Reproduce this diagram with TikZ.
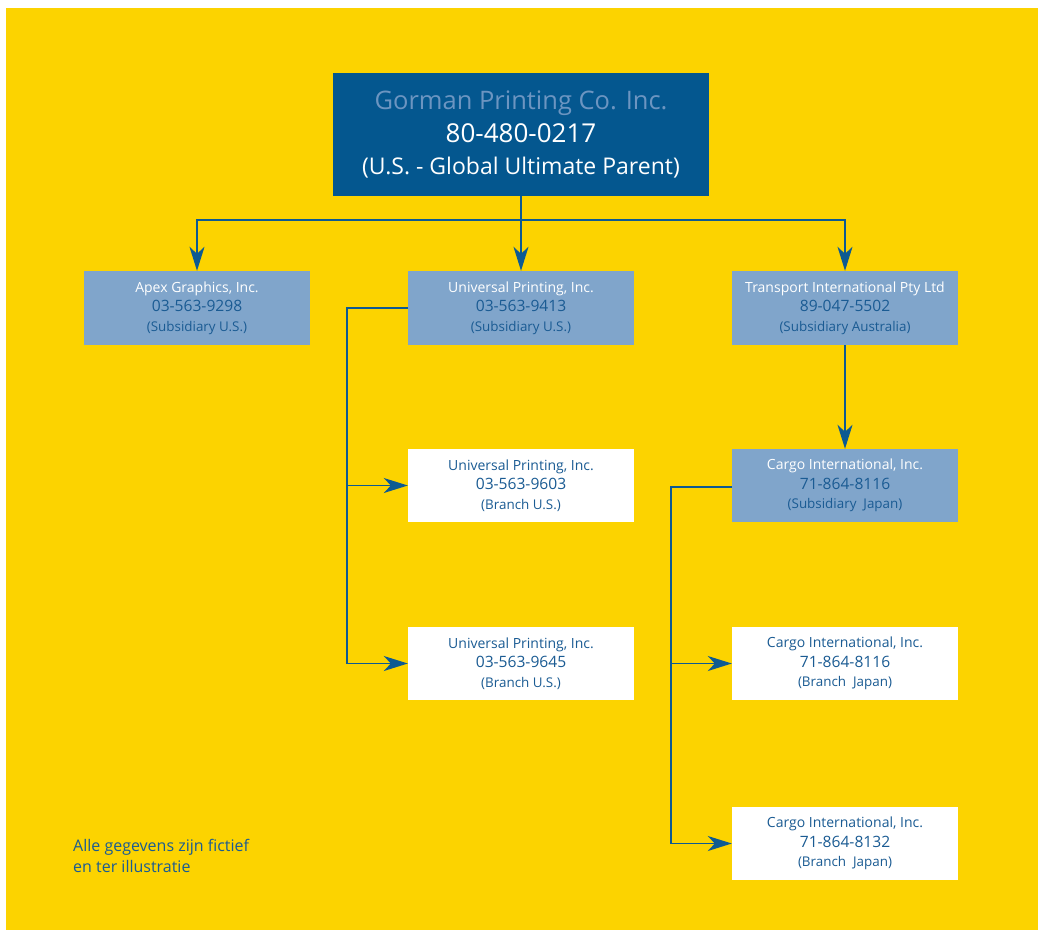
\documentclass[tikz,border=0pt]{standalone}
\usepackage{fontspec}
\setmainfont{Open Sans}
\usetikzlibrary{arrows.meta}
\definecolor{bgyellow}{HTML}{FCD300}
\definecolor{darkbox}{HTML}{04578F}
\definecolor{lightbox}{HTML}{80A5CB}
\definecolor{txtblue}{HTML}{1A5B93}
\definecolor{titleblue}{HTML}{6C95C1}
\definecolor{linkblue}{HTML}{0D5A92}
\tikzset{
  topbox/.style={fill=darkbox, minimum width=376pt, minimum height=123pt, inner sep=0pt, align=center, text=white, font=\fontsize{23}{32.5}\selectfont},
  subbox/.style={fill=lightbox, minimum width=226pt, minimum height=74pt, inner sep=0pt, align=center, font=\fontsize{14}{19.5}\selectfont},
  branchbox/.style={fill=white, minimum width=226pt, minimum height=73pt, inner sep=0pt, align=center, text=txtblue, font=\fontsize{14}{19.5}\selectfont},
  link/.style={draw=linkblue, line width=1.4pt},
  arr/.style={link, -{Stealth[length=24pt, width=15pt, inset=7pt]}},
  note/.style={text=txtblue, font=\fontsize{16}{21}\selectfont, align=left, anchor=north west, inner sep=0pt}
}
\newcommand{\nm}[1]{{\color{white}#1}}
\newcommand{\ph}[1]{{\color{txtblue}\fontsize{15.6}{19.5}\selectfont #1}}
\newcommand{\ds}[1]{{\color{txtblue}\fontsize{13.4}{19.5}\selectfont #1}}
\newcommand{\bph}[1]{{\fontsize{15.6}{19.5}\selectfont #1}}
\newcommand{\bds}[1]{{\fontsize{13.4}{19.5}\selectfont #1}}
\begin{document}
\begin{tikzpicture}[x=1pt, y=-1pt]
\useasboundingbox (0,0) rectangle (1038,930);
\fill[white] (0,0) rectangle (1038,930);
\fill[bgyellow] (6,8) rectangle (1038,930);

\node[topbox] (top) at (521,134.5) {{\color{titleblue}\fontsize{25.5}{32.5}\selectfont Gorman Printing Co. Inc.}\\{\fontsize{26}{32.5}\selectfont 80-480-0217}\\(U.S. - Global Ultimate Parent)};

\node[subbox] (apex) at (197,308) {\nm{Apex Graphics, Inc.}\\\ph{03-563-9298}\\\ds{(Subsidiary U.S.)}};
\node[subbox] (univ) at (521,308) {\nm{Universal Printing, Inc.}\\\ph{03-563-9413}\\\ds{(Subsidiary U.S.)}};
\node[subbox] (trans) at (845,308) {\nm{Transport International Pty Ltd}\\\ph{89-047-5502}\\\ds{(Subsidiary Australia)}};

\node[branchbox] (ub1) at (521,485.5) {Universal Printing, Inc.\\\bph{03-563-9603}\\\bds{(Branch U.S.)}};
\node[branchbox] (ub2) at (521,663.5) {Universal Printing, Inc.\\\bph{03-563-9645}\\\bds{(Branch U.S.)}};

\node[subbox, minimum height=73pt] (cargo) at (845,485.5) {\nm{Cargo International, Inc.}\\\ph{71-864-8116}\\\ds{(Subsidiary\ \ Japan)}};
\node[branchbox] (cb1) at (845,663.5) {Cargo International, Inc.\\\bph{71-864-8116}\\\bds{(Branch\ \ Japan)}};
\node[branchbox] (cb2) at (845,843.5) {Cargo International, Inc.\\\bph{71-864-8132}\\\bds{(Branch\ \ Japan)}};

\coordinate (hub) at (521,220);
\draw[link] (top.south) -- (hub);
\draw[arr] (hub) -| (apex.north);
\draw[arr] (hub) -- (univ.north);
\draw[arr] (hub) -| (trans.north);
\draw[arr] (trans.south) -- (cargo.north);

\coordinate (ul) at (347,308);
\draw[link] (univ.west) -- (ul) -- (347,663.5);
\draw[arr] (347,485.5) -- (ub1.west);
\draw[arr] (347,663.5) -- (ub2.west);

\coordinate (cl) at (671,487);
\draw[link] (cargo.west |- cl) -- (cl) -- (671,843.5);
\draw[arr] (671,663.5) -- (cb1.west);
\draw[arr] (671,843.5) -- (cb2.west);

\node[note] (note) at (73,839) {Alle gegevens zijn fictief\\en ter illustratie};
\end{tikzpicture}
\end{document}
